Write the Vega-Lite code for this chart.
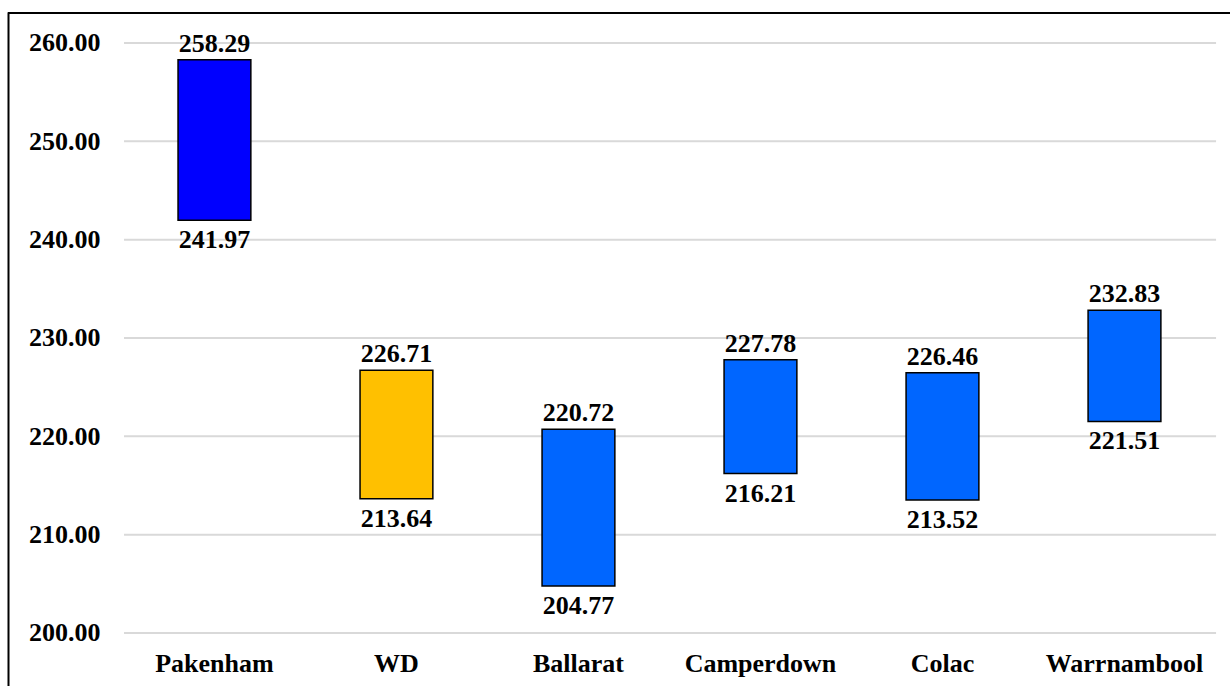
{
  "$schema": "https://vega.github.io/schema/vega-lite/v6.json",
  "width": 1222,
  "height": 673,
  "padding": {"left": 8, "top": 13, "right": 0, "bottom": 0},
  "autosize": {"type": "none"},
  "background": "white",
  "config": {
    "view": {"stroke": null},
    "font": "Liberation Serif",
    "axis": {"labelFont": "Liberation Serif", "labelFontWeight": "bold", "labelFontSize": 26, "labelColor": "black"}
  },
  "datasets": {
    "sites": [
      {"site": "Pakenham", "low": 241.97, "high": 258.29},
      {"site": "WD", "low": 213.64, "high": 226.71},
      {"site": "Ballarat", "low": 204.77, "high": 220.72},
      {"site": "Camperdown", "low": 216.21, "high": 227.78},
      {"site": "Colac", "low": 213.52, "high": 226.46},
      {"site": "Warrnambool", "low": 221.51, "high": 232.83}
    ],
    "gridValues": [{"v": 200}, {"v": 210}, {"v": 220}, {"v": 230}, {"v": 240}, {"v": 250}, {"v": 260}],
    "frameTop": [{"v": 263.05}]
  },
  "encoding": {
    "x": {
      "field": "site",
      "type": "nominal",
      "sort": null,
      "scale": {
        "domain": ["Pakenham", "WD", "Ballarat", "Camperdown", "Colac", "Warrnambool"],
        "paddingInner": 0.6,
        "paddingOuter": 0.657,
        "align": 0.711
      },
      "axis": {
        "title": null,
        "domain": false,
        "ticks": false,
        "tickSize": 0,
        "grid": false,
        "labelAngle": 0,
        "labelBaseline": "alphabetic",
        "labelPadding": -15
      }
    },
    "y": {
      "field": "low",
      "type": "quantitative",
      "scale": {"domain": [194.61, 263.05], "nice": false, "zero": false},
      "axis": {
        "title": null,
        "values": [200, 210, 220, 230, 240, 250, 260],
        "format": ".2f",
        "grid": false,
        "ticks": false,
        "tickSize": 0,
        "domain": true,
        "domainColor": "black",
        "domainWidth": 2,
        "labelAlign": "right",
        "labelBaseline": "middle",
        "labelPadding": -92
      }
    }
  },
  "layer": [
    {
      "data": {"name": "gridValues"},
      "mark": {"type": "rule", "color": "#d9d9d9", "strokeWidth": 2},
      "encoding": {
        "y": {"field": "v", "type": "quantitative"},
        "x": {"datum": "Pakenham", "type": "nominal", "bandPosition": -0.742},
        "x2": {"datum": "Warrnambool", "bandPosition": 1.758}
      }
    },
    {
      "data": {"name": "sites"},
      "mark": {"type": "bar", "stroke": "black", "strokeWidth": 1.5},
      "encoding": {
        "y2": {"field": "high"},
        "color": {
          "field": "site",
          "type": "nominal",
          "legend": null,
          "scale": {
            "domain": ["Pakenham", "WD", "Ballarat", "Camperdown", "Colac", "Warrnambool"],
            "range": ["#0000ff", "#ffc000", "#0066ff", "#0066ff", "#0066ff", "#0066ff"]
          }
        }
      }
    },
    {
      "data": {"name": "sites"},
      "mark": {"type": "text", "font": "Liberation Serif", "fontWeight": "bold", "fontSize": 26, "color": "black", "baseline": "alphabetic", "dy": -8},
      "encoding": {
        "y": {"field": "high", "type": "quantitative"},
        "text": {"field": "high", "type": "quantitative", "format": ".2f"}
      }
    },
    {
      "data": {"name": "sites"},
      "mark": {"type": "text", "font": "Liberation Serif", "fontWeight": "bold", "fontSize": 26, "color": "black", "baseline": "alphabetic", "dy": 28},
      "encoding": {
        "text": {"field": "low", "type": "quantitative", "format": ".2f"}
      }
    },
    {
      "data": {"name": "frameTop"},
      "mark": {"type": "rule", "color": "black", "strokeWidth": 2},
      "encoding": {
        "y": {"field": "v", "type": "quantitative"},
        "x": {"datum": "Pakenham", "type": "nominal", "bandPosition": -2.34},
        "x2": {"datum": "Warrnambool", "bandPosition": 2.0}
      }
    }
  ]
}
